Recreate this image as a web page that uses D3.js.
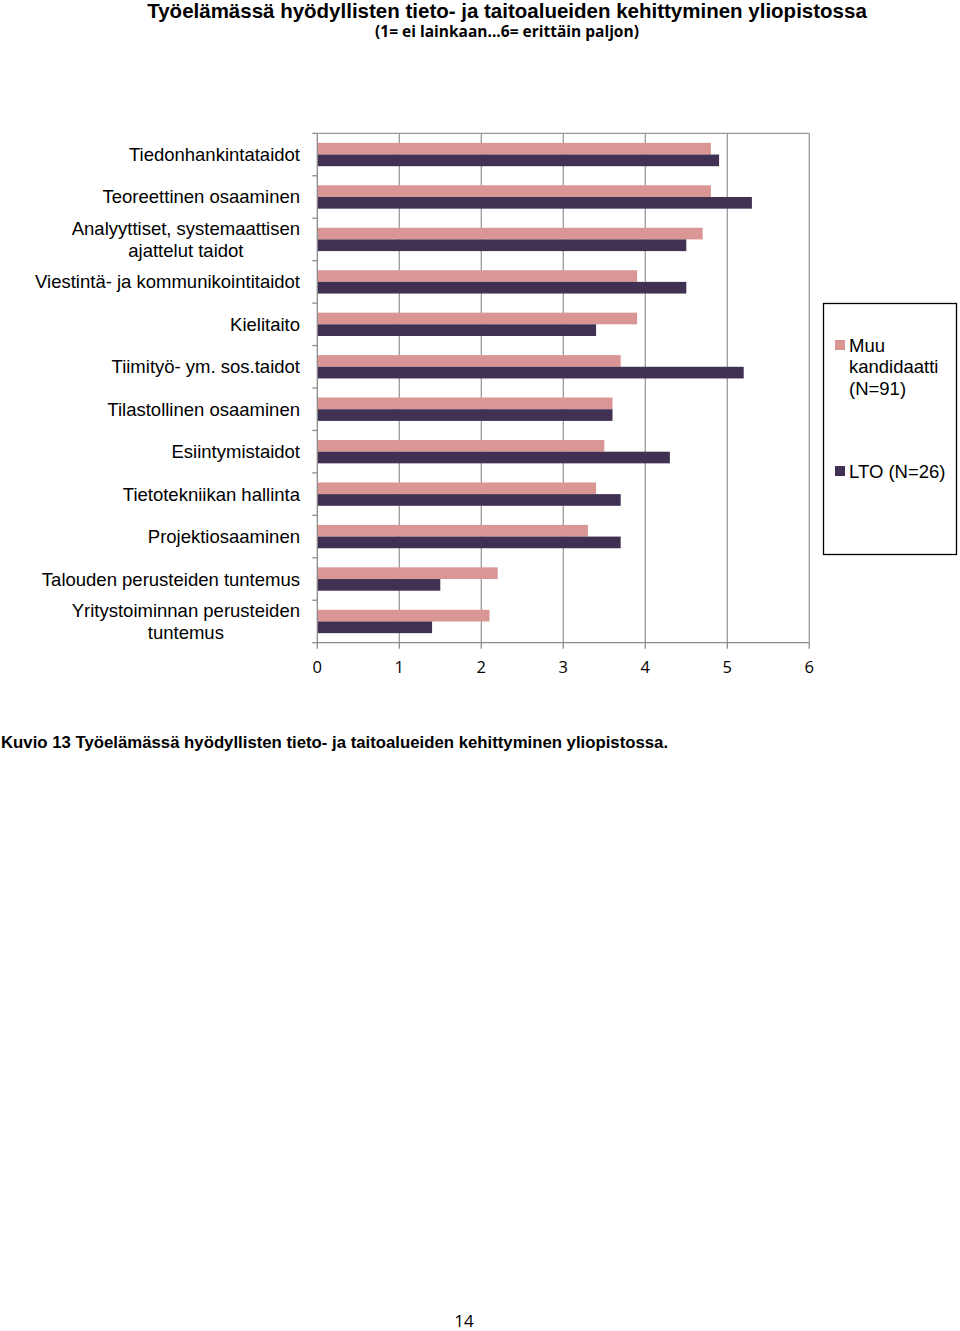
<!DOCTYPE html>
<html><head><meta charset="utf-8">
<script src="https://cdn.jsdelivr.net/npm/d3@7"></script>
<style>body{margin:0;background:#fff}svg{display:block}</style>
</head><body>
<script>
const categories = [
  ["Tiedonhankintataidot"],
  ["Teoreettinen osaaminen"],
  ["Analyyttiset, systemaattisen", "ajattelut taidot"],
  ["Viestintä- ja kommunikointitaidot"],
  ["Kielitaito"],
  ["Tiimityö- ym. sos.taidot"],
  ["Tilastollinen osaaminen"],
  ["Esiintymistaidot"],
  ["Tietotekniikan hallinta"],
  ["Projektiosaaminen"],
  ["Talouden perusteiden tuntemus"],
  ["Yritystoiminnan perusteiden", "tuntemus"]
];
const seriesNames = [["Muu", "kandidaatti", "(N=91)"], ["LTO (N=26)"]];
const muuValues = [4.8, 4.8, 4.7, 3.9, 3.9, 3.7, 3.6, 3.5, 3.4, 3.3, 2.2, 2.1];
const ltoValues = [4.9, 5.3, 4.5, 4.5, 3.4, 5.2, 3.6, 4.3, 3.7, 3.7, 1.5, 1.4];
const xTicks = [0, 1, 2, 3, 4, 5, 6];
const colors = ["#d99694", "#403152"];

const W = 960, H = 1331;
const svg = d3.select("body").append("svg").attr("width", W).attr("height", H);
const pLeft = 317.3, pRight = 809.3, pTop = 133.3, pBottom = 642.7;

svg.append("text").attr("x", 507).attr("y", 18).attr("text-anchor", "middle")
  .attr("font-family", "Liberation Sans, Arial, sans-serif").attr("font-weight", "bold")
  .attr("font-size", 20.5).attr("fill", "#000")
  .text("Työelämässä hyödyllisten tieto- ja taitoalueiden kehittyminen yliopistossa");
svg.append("text").attr("x", 507).attr("y", 37).attr("text-anchor", "middle")
  .attr("font-family", "Open Sans, sans-serif").attr("font-weight", "bold")
  .attr("font-size", 15.5).attr("fill", "#000")
  .text("(1= ei lainkaan...6= erittäin paljon)");

const x = d3.scaleLinear().domain([0, 6]).range([pLeft, pRight]);
const idx = d3.range(categories.length);
const y = d3.scaleBand().domain(idx).range([pTop, pBottom]).paddingInner(0.45).paddingOuter(0.225);
const ySub = d3.scaleBand().domain([0, 1]).range([0, y.bandwidth()]);
const boundary = d3.scaleLinear().domain([0, categories.length]).range([pTop, pBottom]);

// gridlines
const g = svg.append("g");
g.selectAll("line.grid").data(xTicks.slice(1)).join("line")
  .attr("x1", d => x(d)).attr("x2", d => x(d)).attr("y1", pTop).attr("y2", pBottom)
  .attr("stroke", "#9a9a9a").attr("stroke-width", 1.3);
g.append("line").attr("x1", pLeft).attr("x2", pRight).attr("y1", pTop).attr("y2", pTop)
  .attr("stroke", "#9a9a9a").attr("stroke-width", 1.3);

// bars
[muuValues, ltoValues].forEach((vals, s) => {
  svg.append("g").selectAll("rect").data(vals).join("rect")
    .attr("x", x(0)).attr("y", (d, i) => y(i) + ySub(s))
    .attr("width", d => x(d) - x(0)).attr("height", ySub.bandwidth())
    .attr("fill", colors[s]);
});

// axes lines and ticks
const ax = svg.append("g").attr("stroke", "#8c8c8c").attr("stroke-width", 1.3);
ax.append("line").attr("x1", pLeft).attr("x2", pLeft).attr("y1", pTop).attr("y2", pBottom);
ax.append("line").attr("x1", pLeft).attr("x2", pRight).attr("y1", pBottom).attr("y2", pBottom);
ax.selectAll("line.yt").data(d3.range(categories.length + 1)).join("line")
  .attr("x1", pLeft - 5).attr("x2", pLeft).attr("y1", d => boundary(d)).attr("y2", d => boundary(d));
ax.selectAll("line.xt").data(xTicks).join("line")
  .attr("x1", d => x(d)).attr("x2", d => x(d)).attr("y1", pBottom).attr("y2", pBottom + 6);

svg.append("g").selectAll("text").data(xTicks).join("text")
  .attr("x", d => x(d)).attr("y", 673).attr("text-anchor", "middle")
  .attr("font-family", "Open Sans, sans-serif").attr("font-size", 16.5).attr("fill", "#000")
  .text(d => d);

// category labels
const lab = svg.append("g").attr("font-family", "Liberation Sans, Arial, sans-serif")
  .attr("font-size", 18.5).attr("fill", "#000");
categories.forEach((lines, i) => {
  const cy = y(i) + y.bandwidth() / 2;
  const t = lab.append("text").attr("text-anchor", lines.length > 1 ? "middle" : "end");
  const lh = 22;
  const tmp = lab.append("text").text(lines[0]);
  const w0 = tmp.node().getComputedTextLength(); tmp.remove();
  lines.forEach((ln, j) => {
    t.append("tspan").attr("x", lines.length > 1 ? 300 - w0 / 2 : 300)
      .attr("y", cy + 6.5 + (j - (lines.length - 1) / 2) * lh).text(ln);
  });
});

// legend
svg.append("rect").attr("x", 823.5).attr("y", 303.5).attr("width", 133).attr("height", 251)
  .attr("fill", "none").attr("stroke", "#000").attr("stroke-width", 1.3);
const leg = svg.append("g").attr("font-family", "Liberation Sans, Arial, sans-serif")
  .attr("font-size", 18.5).attr("fill", "#000");
const legY = [345, 471];
seriesNames.forEach((lines, s) => {
  leg.append("rect").attr("x", 835).attr("y", legY[s] - 5).attr("width", 10).attr("height", 10)
    .attr("fill", colors[s]);
  lines.forEach((ln, j) => {
    leg.append("text").attr("x", 849).attr("y", legY[s] + 6.5 + j * 21.5).text(ln);
  });
});

svg.append("text").attr("x", 1).attr("y", 748)
  .attr("font-family", "Liberation Sans, Arial, sans-serif").attr("font-weight", "bold")
  .attr("font-size", 16.75).attr("fill", "#000")
  .text("Kuvio 13 Työelämässä hyödyllisten tieto- ja taitoalueiden kehittyminen yliopistossa.");

svg.append("text").attr("x", 464).attr("y", 1326.5).attr("text-anchor", "middle")
  .attr("font-family", "Open Sans, sans-serif").attr("font-size", 17).attr("fill", "#000")
  .text("14");
</script>
</body></html>
